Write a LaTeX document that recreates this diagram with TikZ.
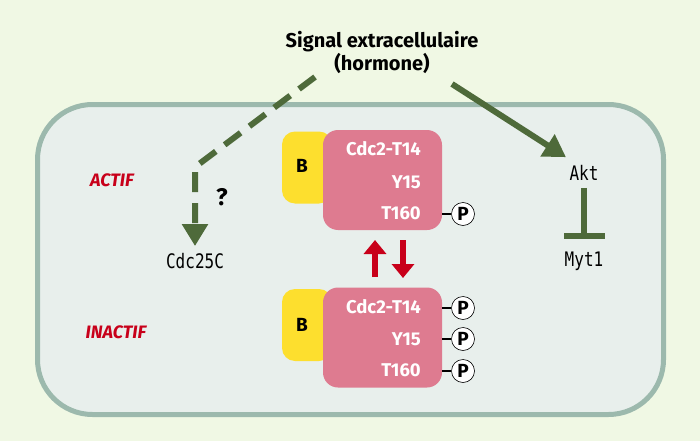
\documentclass[tikz,border=0pt]{standalone}
\usepackage{fontspec}
\setmainfont{Fira Sans}
\newfontfamily\monof{DejaVu Sans Mono}
\usetikzlibrary{arrows.meta}
\definecolor{bgc}{HTML}{F0F8E4}
\definecolor{cellc}{HTML}{E8EFEC}
\definecolor{celld}{HTML}{9CB9AD}
\definecolor{dgreen}{HTML}{4E6A3A}
\definecolor{pinkc}{HTML}{DE7B90}
\definecolor{yellc}{HTML}{FDDF2E}
\definecolor{redc}{HTML}{C8001A}
\tikzset{
  pinkbox/.style={fill=pinkc, rounded corners=15pt, minimum width=119pt, minimum height=100pt, inner sep=0pt},
  yellbox/.style={fill=yellc, rounded corners=13pt, minimum width=50pt, minimum height=72pt, inner sep=0pt},
  wtext/.style={text=white, font=\fontsize{18.5}{18.5}\selectfont\bfseries, anchor=east, inner sep=0pt},
  pcirc/.style={circle, draw=black, fill=white, line width=0.6pt, minimum size=23pt, inner sep=0pt, font=\fontsize{19}{19}\selectfont\bfseries},
  plink/.style={draw=black, line width=2pt},
  gtext/.style={font=\monof\fontsize{16}{16}\selectfont, inner sep=0pt},
  state/.style={text=redc, font=\fontsize{18}{18}\selectfont\bfseries\itshape, inner sep=0pt},
  garrow/.style={draw=dgreen, line width=6pt, -{Triangle[length=22pt,width=25pt]}},
  dasharrow/.style={draw=dgreen, line width=6pt, dash pattern=on 20pt off 11pt, -{Triangle[length=22pt,width=25pt]}},
  inhib/.style={draw=dgreen, line width=6pt, -{Bar[width=41pt]}},
  redarrow/.style={draw=redc, line width=6pt, -{Triangle[length=14pt,width=22pt]}},
}
\begin{document}
\begin{tikzpicture}[x=1pt,y=-1pt]
\useasboundingbox (0,0) rectangle (700,441);
\fill[bgc] (0,0) rectangle (700,441);
\draw[celld, fill=cellc, line width=5pt, rounded corners=55pt] (37.5,104.5) rectangle (663.5,414.5);

% title
\node[align=center, font=\fontsize{20}{23}\selectfont\bfseries, inner sep=0pt] (sig) at (382,52) {Signal extracellulaire\\(hormone)};

% top complex
\node[yellbox] (yb1) at (307,167.5) {};
\node[pinkbox] (pb1) at (382.5,180) {};
\node[font=\fontsize{19}{19}\selectfont\bfseries] (b1) at (302,166) {B};
\node[wtext] (t1a) at (421,149) {Cdc2-T14};
\node[wtext] (t1b) at (421,182) {Y15};
\node[wtext] (t1c) at (421,213) {T160};
\node[pcirc] (p1c) at (463,214) {P};
\draw[plink] (p1c.west) -- (p1c.west -| pb1.east);

% bottom complex
\node[yellbox] (yb2) at (307,325) {};
\node[pinkbox] (pb2) at (382.5,337.5) {};
\node[font=\fontsize{19}{19}\selectfont\bfseries] (b2) at (302,325) {B};
\node[wtext] (t2a) at (421,307) {Cdc2-T14};
\node[wtext] (t2b) at (421,339) {Y15};
\node[wtext] (t2c) at (421,370) {T160};
\node[pcirc] (p2a) at (463,308) {P};
\node[pcirc] (p2b) at (463,339) {P};
\node[pcirc] (p2c) at (463,371) {P};
\draw[plink] (p2a.west) -- (p2a.west -| pb2.east);
\draw[plink] (p2b.west) -- (p2b.west -| pb2.east);
\draw[plink] (p2c.west) -- (p2c.west -| pb2.east);

% red arrows
\coordinate (ua) at (375,277);
\coordinate (ub) at (375,240);
\coordinate (da) at (403,240);
\coordinate (db) at (403,278);
\draw[redarrow] (ua) -- (ub);
\draw[redarrow] (da) -- (db);

% states
\node[state] (act) at (112,180) {ACTIF};
\node[state] (inact) at (116,332) {INACTIF};

% left branch
\node[gtext] (cdc) at (195,261) {\scalebox{1}[1.25]{Cdc25C}};
\node[font=\fontsize{24}{24}\selectfont\bfseries, inner sep=0pt] (q) at (222,197) {?};
\coordinate (d0) at (315,77);
\coordinate (dc) at (195,167);
\draw[dasharrow, shorten >=7pt] (d0) -- (dc) -- (cdc.north);

% right branch
\node[gtext] (akt) at (584,173) {\scalebox{1}[1.25]{Akt}};
\node[gtext] (myt) at (584,261) {\scalebox{1}[1.25]{Myt1}};
\coordinate (s0) at (452,84);
\draw[garrow] (s0) -- ([xshift=-18pt,yshift=8pt]akt.north);
\draw[inhib] ([yshift=-7pt]akt.south) -- ([yshift=12pt]myt.north);
\end{tikzpicture}
\end{document}
